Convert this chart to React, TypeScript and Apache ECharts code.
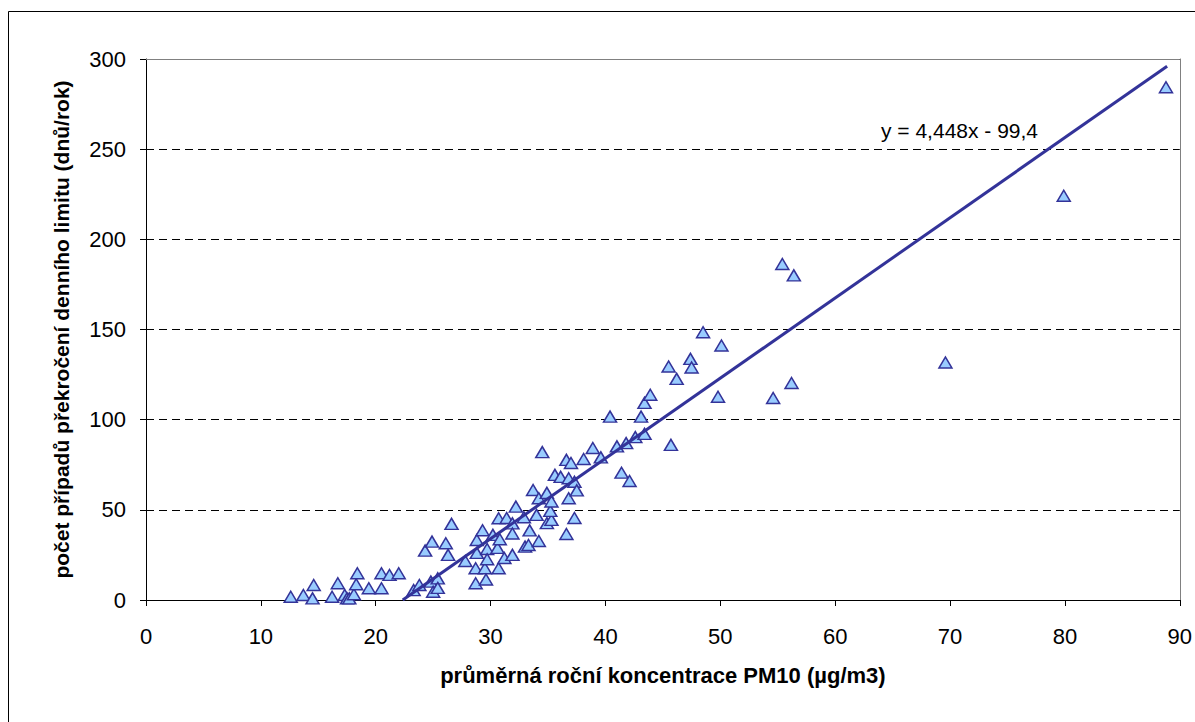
import React, { useEffect, useRef } from "react";
import * as echarts from "echarts";

const pm10 = [
  12.6, 13.7, 14.6, 14.5, 16.2, 16.7, 17.3, 17.5, 17.7, 18.1, 18.3, 18.4, 19.4, 20.5, 20.5, 21.2, 22.0,
  23.3, 23.8, 24.3, 24.9, 24.8, 25.0, 25.4, 25.4, 26.1, 26.3, 26.6, 27.8, 28.7, 28.7, 28.8, 28.8, 29.3,
  29.5, 29.6, 29.7, 29.7, 30.2, 30.7, 30.6, 30.8, 30.7, 31.2, 31.4, 31.9, 31.9, 31.9, 32.2, 33.0, 33.3,
  33.4, 32.9, 33.7, 34.2, 34.2, 34.5, 34.0, 34.9, 34.9, 35.3, 35.2, 35.3, 35.6, 36.1, 36.6, 36.6, 36.8,
  36.8, 37.0, 37.3, 37.3, 37.5, 38.1, 38.9, 39.6, 40.4, 41.0, 41.4, 41.8, 42.1, 42.6, 43.1, 43.4, 43.4,
  43.9, 45.5, 45.7, 46.2, 47.4, 47.5, 48.5, 50.1, 49.8, 54.6, 55.4, 56.4, 56.2, 69.6, 79.9, 88.8,
];
const exceedDays = [
  1.8, 2.8, 8.3, 0.9, 1.8, 9.3, 2.8, 0.9, 0.9, 3.2, 8.7, 14.8, 6.5, 6.5, 14.8, 13.9, 14.8,
  5.5, 8.3, 27.4, 32.4, 10.2, 4.6, 12.0, 6.7, 31.5, 25.0, 42.2, 21.6, 17.6, 9.3, 26.1, 33.3, 38.7,
  17.6, 11.4, 28.3, 22.6, 36.1, 17.6, 28.9, 33.7, 45.3, 23.3, 45.5, 42.5, 25.0, 36.9, 51.8, 29.6, 30.5,
  38.6, 45.9, 61.0, 56.4, 32.7, 82.0, 47.2, 59.4, 42.6, 44.4, 49.4, 54.6, 69.4, 68.3, 77.7, 36.6, 56.4,
  67.5, 76.0, 65.6, 45.5, 60.8, 78.2, 84.3, 79.1, 101.7, 85.2, 70.6, 87.0, 66.0, 90.3, 101.7, 92.1, 109.3,
  113.8, 129.5, 86.0, 122.6, 133.7, 128.9, 148.5, 141.1, 112.7, 112.0, 186.3, 180.0, 120.3, 131.7, 224.2, 284.3,
];
const trendSlope = 4.448;
const trendIntercept = -99.4;
const trendXRange = [22.35, 88.9];
const xTicks = [0, 10, 20, 30, 40, 50, 60, 70, 80, 90];
const yTicks = [0, 50, 100, 150, 200, 250, 300];

const equationLabel = "y = 4,448x - 99,4";
const xTitle = "průměrná roční koncentrace PM10 (µg/m3)";
const yTitle = "počet případů překročení denního limitu (dnů/rok)";

export default function App() {
  const ref = useRef<HTMLDivElement>(null);
  useEffect(() => {
    if (!ref.current) return;
    const chart = echarts.init(ref.current, null, { renderer: "svg" });
    const points = pm10.map((x, i) => [x, exceedDays[i]]);
    const trend = trendXRange.map((x) => [x, trendSlope * x + trendIntercept]);
    const font = "'Liberation Sans', Arial, sans-serif";
    const yMax = yTicks[yTicks.length - 1];
    chart.setOption({
      animation: false,
      backgroundColor: "#ffffff",
      textStyle: { fontFamily: font },
      grid: { left: 146, top: 59, right: 12, bottom: 122, containLabel: false },
      graphic: [
        {
          type: "rect",
          shape: { x: 8.5, y: 11.5, width: 1240, height: 760 },
          style: { fill: "none", stroke: "#000000", lineWidth: 1 },
          silent: true,
          z: -10,
        },
        {
          type: "text",
          left: 881,
          top: 120,
          style: { text: equationLabel, fontSize: 21, fill: "#000000", fontFamily: font },
        },
      ],
      xAxis: [
        {
          type: "value",
          min: xTicks[0],
          max: xTicks[xTicks.length - 1],
          interval: 10,
          name: xTitle,
          nameLocation: "middle",
          nameGap: 64,
          nameTextStyle: { fontSize: 22, fontWeight: "bold", color: "#000", fontFamily: font },
          axisLine: { lineStyle: { color: "#000", width: 1 } },
          axisTick: { show: true, length: 6, inside: false, lineStyle: { color: "#000" } },
          axisLabel: { fontSize: 22, color: "#000", margin: 25, fontFamily: font },
          splitLine: { show: false },
        },
      ],
      yAxis: [
        {
          type: "value",
          min: yTicks[0],
          max: yMax,
          interval: 50,
          name: yTitle,
          nameLocation: "middle",
          nameGap: 74,
          nameTextStyle: { fontSize: 21, fontWeight: "bold", color: "#000", fontFamily: font },
          axisLine: { show: true, lineStyle: { color: "#000", width: 1 } },
          axisTick: { show: true, length: 6, lineStyle: { color: "#000" } },
          axisLabel: { fontSize: 22, color: "#000", margin: 20, fontFamily: font },
          splitLine: { show: true, lineStyle: { color: "#000", type: [8, 5], width: 1 } },
        },
        {
          type: "value",
          position: "right",
          min: 0,
          max: yMax,
          interval: 50,
          axisLine: { show: true, lineStyle: { color: "#808080", width: 1 } },
          axisTick: { show: false },
          axisLabel: { show: false },
          splitLine: { show: false },
        },
      ],
      series: [
        {
          type: "scatter",
          data: points,
          symbol: "triangle",
          symbolSize: [13, 11],
          itemStyle: { color: "#99ccff", borderColor: "#333399", borderWidth: 1.5, opacity: 1 },
          z: 3,
        },
        {
          type: "line",
          data: trend,
          symbol: "none",
          lineStyle: { color: "#333399", width: 3 },
          z: 4,
          markLine: {
            silent: true,
            symbol: "none",
            label: { show: false },
            lineStyle: { color: "#808080", type: "solid", width: 1 },
            data: [{ yAxis: yMax }],
            z: 1,
          },
        },
      ],
    });
    return () => chart.dispose();
  }, []);
  return (
    <div style={{ position: "fixed", left: 0, top: 0, width: 1195, height: 722, overflow: "hidden", background: "#fff" }}>
      <div ref={ref} style={{ width: 1195, height: 722 }} />
    </div>
  );
}
